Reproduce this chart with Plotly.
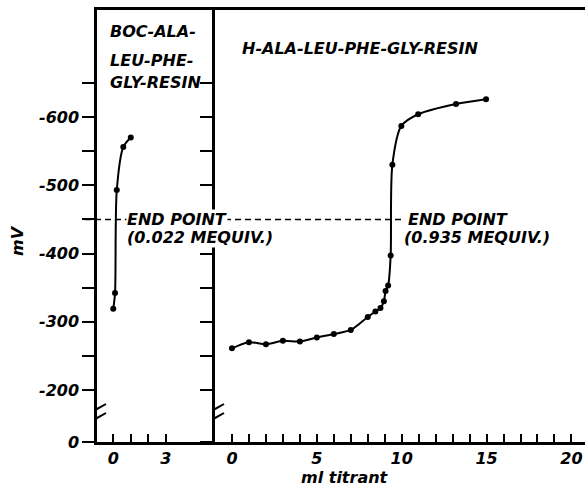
import plotly.graph_objects as go

# ---- data ----
boc_ml = [0.0, 0.1, 0.2, 0.57, 1.0]
boc_mv = [-319, -342, -493, -556, -570]

h_ml = [0.0, 1.0, 2.0, 3.0, 4.0, 5.0, 6.0, 7.0, 8.0, 8.45, 8.75, 8.95, 9.05, 9.2, 9.35,
        9.45, 9.98, 10.97, 13.2, 14.97]
h_mv = [-261, -270, -267, -272, -271, -277, -282, -288, -307, -315, -320, -330, -345, -353, -397,
        -530, -587, -604, -619, -626]

endpoint_mv = -450
y_zero_pos = -123.8          # where the broken axis puts "0"
y_break_pos = -166.3         # centre of the axis break
y_top = -756.8

y_tickvals = [-650, -600, -550, -500, -450, -400, -350, -300, -250, -200, y_zero_pos]
y_ticktext = ["", "-600", "", "-500", "", "-400", "", "-300", "", "-200", "0"]

left_x_tickvals = [0, 1, 2, 3]
left_x_ticktext = ["0", "", "", "3"]
right_x_tickvals = list(range(0, 21))
right_x_ticktext = [str(v) if v % 5 == 0 else "" for v in right_x_tickvals]

left_x_range = [-0.93, 5.81]
right_x_range = [-1.0, 20.8]

FONT = "DejaVu Sans"
fs = 16
ifont = dict(family=FONT, size=fs, color="black", style="italic", weight="bold")

fig = go.Figure()
fig.add_trace(go.Scatter(x=boc_ml, y=boc_mv, xaxis="x", yaxis="y", mode="lines+markers",
                         line=dict(color="black", width=2, shape="spline", smoothing=0.8),
                         marker=dict(color="black", size=6), showlegend=False))
fig.add_trace(go.Scatter(x=h_ml, y=h_mv, xaxis="x2", yaxis="y2", mode="lines+markers",
                         line=dict(color="black", width=2, shape="spline", smoothing=0.8),
                         marker=dict(color="black", size=6), showlegend=False))

split = (215 - 97) / 488
axis_common = dict(showline=True, linecolor="black", linewidth=2.5, showgrid=False, zeroline=False,
                   tickcolor="black", tickwidth=2, tickfont=ifont, automargin=False)

fig.update_layout(
    width=585, height=493,
    margin=dict(l=97, r=0, t=10, b=51, autoexpand=False),
    paper_bgcolor="white", plot_bgcolor="white",
    xaxis=dict(domain=[0, split], range=left_x_range, anchor="y", ticks="inside", ticklen=8,
               tickvals=left_x_tickvals, ticktext=left_x_ticktext, mirror=True, **axis_common),
    xaxis2=dict(domain=[split, 1], range=right_x_range, anchor="y2", ticks="inside", ticklen=8,
                tickvals=right_x_tickvals, ticktext=right_x_ticktext, mirror=True, **axis_common),
    yaxis=dict(domain=[0, 1], range=[y_zero_pos, y_top], anchor="x", ticks="outside", ticklen=12,
               tickvals=y_tickvals, ticktext=y_ticktext, **axis_common),
    yaxis2=dict(domain=[0, 1], matches="y", range=[y_zero_pos, y_top], anchor="x2", ticks="outside",
                ticklen=12, tickvals=y_tickvals, showticklabels=False, **axis_common),
)

# dashed end-point line
fig.add_shape(type="line", xref="paper", yref="y", x0=-0.0246, x1=0.631, y0=endpoint_mv, y1=endpoint_mv,
              line=dict(color="black", width=1.5, dash="6px,4px"))

# axis breaks
for xr, xa in (("x", left_x_range[0]), ("x2", right_x_range[0])):
    fig.add_shape(type="rect", xref=xr, yref="y", xsizemode="pixel", ysizemode="pixel",
                  xanchor=xa, yanchor=y_break_pos, x0=-3, x1=3, y0=-4, y1=4,
                  fillcolor="white", line=dict(width=0), layer="above")
    for off in (-5, 4):
        fig.add_shape(type="line", xref=xr, yref="y", xsizemode="pixel", ysizemode="pixel",
                      xanchor=xa, yanchor=y_break_pos, x0=-9, x1=9, y0=off - 5, y1=off + 5,
                      line=dict(color="black", width=2), layer="above")

ann = []
# left label
for txt, yp in (("BOC-ALA-", 0.951), ("LEU-PHE-", 0.884), ("GLY-RESIN", 0.833)):
    ann.append(dict(text=txt, xref="paper", yref="paper", x=0.0225, y=yp, xanchor="left",
                    yanchor="middle", showarrow=False, font=ifont))
ann.append(dict(text="H-ALA-LEU-PHE-GLY-RESIN", xref="paper", yref="paper", x=0.293, y=0.912,
                xanchor="left", yanchor="middle", showarrow=False, font=ifont))
# end point labels
ann.append(dict(text="END POINT", xref="x", yref="y", x=0.75, y=endpoint_mv, xanchor="left",
                yanchor="middle", showarrow=False, font=ifont, bgcolor="white", borderpad=0))
ann.append(dict(text="(0.022 MEQUIV.)", xref="x", yref="y", x=0.75, y=endpoint_mv + 27,
                xanchor="left", yanchor="middle", showarrow=False, font=ifont, bgcolor="white", borderpad=0))
ann.append(dict(text="END POINT", xref="x2", yref="y2", x=10.29, y=endpoint_mv, xanchor="left",
                yanchor="middle", showarrow=False, font=ifont, bgcolor="white", borderpad=0))
ann.append(dict(text="(0.935 MEQUIV.)", xref="x2", yref="y2", x=10.06, y=endpoint_mv + 27,
                xanchor="left", yanchor="middle", showarrow=False, font=ifont, bgcolor="white", borderpad=0))
# axis titles
ann.append(dict(text="mV", xref="paper", yref="paper", x=-0.162, y=0.4676, xanchor="center",
                yanchor="middle", textangle=-90, showarrow=False, font=ifont))
ann.append(dict(text="ml titrant", xref="paper", yref="paper", x=0.508, y=-0.0833, xanchor="center",
                yanchor="middle", showarrow=False, font=ifont))
fig.update_layout(annotations=ann)

fig.write_html("out.html", config={"displayModeBar": False},
               post_script="document.body.style.margin='0';")
